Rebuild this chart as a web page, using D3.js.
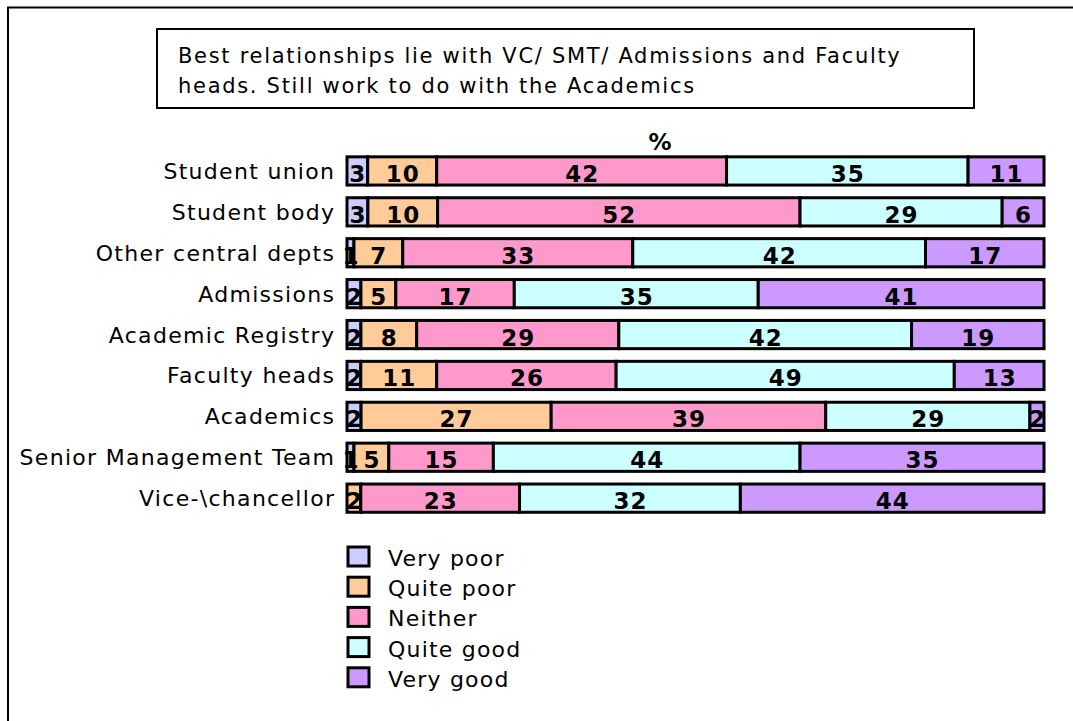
<!DOCTYPE html>
<html>
<head>
<meta charset="utf-8">
<script src="https://cdn.jsdelivr.net/npm/d3@7"></script>
<style>
  html, body { margin: 0; padding: 0; background: #fff; }
  svg { display: block; }
  text { font-family: "DejaVu Sans", Verdana, sans-serif; }
</style>
</head>
<body>
<svg id="chart" width="1073" height="721"></svg>
<script>
const categories = ["Student union", "Student body", "Other central depts", "Admissions",
  "Academic Registry", "Faculty heads", "Academics", "Senior Management Team", "Vice-\\chancellor"];
const seriesNames = ["Very poor", "Quite poor", "Neither", "Quite good", "Very good"];
const seriesColors = ["#ccccff", "#ffcc99", "#ff99cc", "#ccffff", "#cc99ff"];
const veryPoor  = [3, 3, 1, 2, 2, 2, 2, 1, 0];
const quitePoor = [10, 10, 7, 5, 8, 11, 27, 5, 2];
const neither   = [42, 52, 33, 17, 29, 26, 39, 15, 23];
const quiteGood = [35, 29, 42, 35, 42, 49, 29, 44, 32];
const veryGood  = [11, 6, 17, 41, 19, 13, 2, 35, 44];
const titleLines = ["Best relationships lie with VC/ SMT/ Admissions and Faculty",
  "heads. Still work to do with the Academics"];
const axisTitle = "%";

const seriesValues = [veryPoor, quitePoor, neither, quiteGood, veryGood];

const svg = d3.select("#chart");

// outer frame (left and top edges visible)
svg.append("path")
  .attr("d", "M8,730 L8,7.5 L1080,7.5")
  .attr("fill", "none").attr("stroke", "#000").attr("stroke-width", 2);

// title box
svg.append("rect").attr("x", 157).attr("y", 29).attr("width", 817).attr("height", 79)
  .attr("fill", "#fff").attr("stroke", "#000").attr("stroke-width", 2);
svg.append("g").selectAll("text").data(titleLines).join("text")
  .attr("x", 178).attr("y", (d, i) => 63 + i * 30)
  .attr("font-size", 21).attr("letter-spacing", 1.7).attr("fill", "#000").text(d => d);

// scales
const x = d3.scaleLinear().domain([0, 1]).range([347, 1044]);
const y = d3.scaleBand().domain(categories).range([150.5, 150.5 + 9 * 40.9])
  .paddingInner(0.31).paddingOuter(0.155);

// stacked rows, normalised to 100%
const rows = categories.map((c, i) => {
  const vals = seriesValues.map(s => s[i]);
  const total = d3.sum(vals);
  let acc = 0;
  return vals.map((v, k) => {
    const seg = { cat: c, k, v, x0: acc / total, x1: (acc + v) / total };
    acc += v;
    return seg;
  });
});
const segs = rows.flat().filter(d => d.v > 0);

const g = svg.append("g");
g.selectAll("rect").data(segs).join("rect")
  .attr("x", d => x(d.x0)).attr("width", d => x(d.x1) - x(d.x0))
  .attr("y", d => y(d.cat)).attr("height", y.bandwidth())
  .attr("fill", d => seriesColors[d.k])
  .attr("stroke", "#000").attr("stroke-width", 3);

g.selectAll("text.val").data(segs).join("text").attr("class", "val")
  .attr("x", d => x((d.x0 + d.x1) / 2) + 0.5)
  .attr("y", d => y(d.cat) + y.bandwidth() / 2 + 11)
  .attr("text-anchor", "middle").attr("font-size", 23).attr("font-weight", "bold")
  .attr("letter-spacing", 1).attr("fill", "#000").text(d => d.v);

// category labels
svg.append("g").selectAll("text").data(categories).join("text")
  .attr("x", 335.3).attr("y", d => y(d) + y.bandwidth() / 2 + 8)
  .attr("text-anchor", "end").attr("font-size", 22).attr("letter-spacing", 1.3).attr("fill", "#000")
  .text(d => d);

// % label
svg.append("text").attr("x", 660).attr("y", 150).attr("text-anchor", "middle")
  .attr("font-size", 23).attr("font-weight", "bold").text(axisTitle);

// legend
const leg = svg.append("g").selectAll("g").data(seriesNames).join("g")
  .attr("transform", (d, i) => `translate(0, ${547 + i * 30.2})`);
leg.append("rect").attr("x", 348).attr("y", 0).attr("width", 21).attr("height", 19)
  .attr("fill", (d, i) => seriesColors[i]).attr("stroke", "#000").attr("stroke-width", 3);
leg.append("text").attr("x", 388).attr("y", 19).attr("font-size", 22).attr("letter-spacing", 1.2)
  .attr("fill", "#000").text(d => d);
</script>
</body>
</html>
